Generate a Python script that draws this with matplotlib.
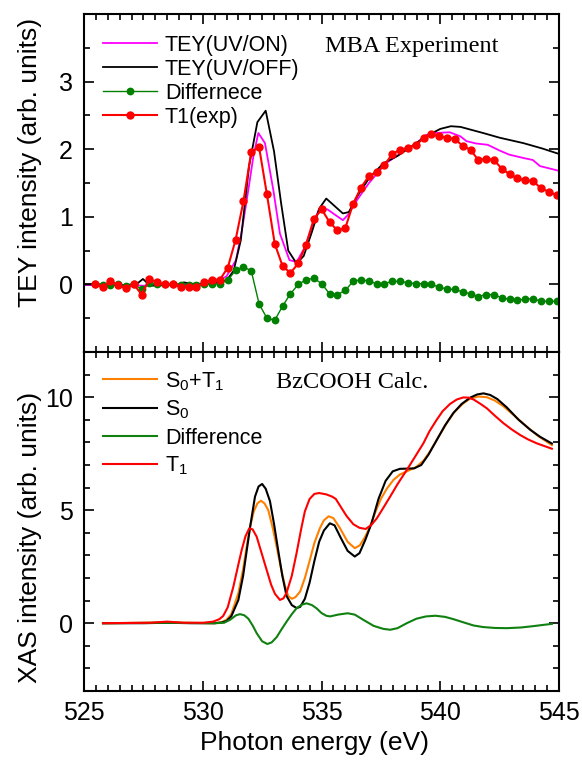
import numpy as np
import matplotlib
matplotlib.use("Agg")
import matplotlib.pyplot as plt
from matplotlib.ticker import MultipleLocator, FixedLocator

plt.rcParams['font.family'] = ['Liberation Sans', 'DejaVu Sans']
plt.rcParams['mathtext.fontset'] = 'custom'
plt.rcParams['mathtext.rm'] = 'Liberation Sans'
plt.rcParams['mathtext.it'] = 'Liberation Sans:italic'
plt.rcParams['mathtext.default'] = 'regular'

# ---------------- Top panel: MBA experiment ----------------
exp_x = np.linspace(525.45, 544.9, 60)
t1_exp = [0.0, -0.04, 0.05, -0.01, -0.06, 0.0, -0.15, 0.08, 0.03, 0.0,
          0.01, -0.04, -0.04, -0.04, 0.03, 0.07, 0.07, 0.25, 0.66, 1.23,
          1.96, 2.03, 1.33, 0.60, 0.27, 0.17, 0.31, 0.59, 0.97, 1.11,
          0.92, 0.80, 0.83, 1.19, 1.43, 1.60, 1.66, 1.76, 1.93, 1.99,
          2.02, 2.06, 2.16, 2.22, 2.19, 2.17, 2.15, 2.05, 1.99, 1.84,
          1.86, 1.84, 1.71, 1.63, 1.57, 1.54, 1.53, 1.42, 1.37, 1.32]
diff_exp = [0.0, -0.01, -0.01, 0.0, -0.03, 0.0, -0.07, 0.02, 0.0, 0.0,
            0.0, -0.01, -0.01, -0.01, 0.0, 0.0, 0.01, 0.06, 0.21, 0.26,
            0.20, -0.29, -0.50, -0.53, -0.32, -0.14, 0.0, 0.07, 0.09, 0.01,
            -0.14, -0.15, -0.09, 0.045, 0.07, 0.05, 0.01, 0.01, 0.045, 0.045,
            0.025, 0.01, 0.01, 0.0, -0.04, -0.07, -0.075, -0.11, -0.14, -0.18,
            -0.15, -0.15, -0.20, -0.22, -0.23, -0.22, -0.21, -0.25, -0.25, -0.25]

off_x = [525.0, 526.0, 526.5, 527.2, 527.48, 527.8, 528.5, 529.0, 529.2, 529.5,
         530.0, 530.5, 531.0, 531.3, 531.6, 531.95, 532.3, 532.65, 533.0, 533.3,
         533.6, 533.95, 534.25, 534.6, 534.9, 535.2, 535.55, 535.9, 536.15, 536.5,
         537.0, 537.6, 538.2, 538.7, 539.4, 540.0, 540.45, 540.85, 541.8, 542.5,
         543.5, 544.3, 545.0]
off_y = [0.0, 0.0, -0.01, 0.0, 0.08, -0.02, -0.01, 0.0, 0.03, 0.01,
         0.01, 0.02, 0.06, 0.20, 0.65, 1.75, 2.40, 2.57, 1.97, 1.20,
         0.50, 0.31, 0.42, 0.78, 1.12, 1.27, 1.16, 1.05, 1.07, 1.30,
         1.57, 1.79, 1.90, 2.02, 2.19, 2.30, 2.34, 2.33, 2.24, 2.17,
         2.09, 2.01, 1.93]

on_x = [525.0, 527.0, 527.5, 528.0, 530.0, 530.5, 531.0, 531.4, 531.65, 531.92,
        532.13, 532.34, 532.62, 532.97, 533.25, 533.65, 533.95, 534.3, 534.65, 534.9,
        535.25, 535.57, 535.9, 536.12, 536.5, 537.0, 537.7, 538.3, 539.0, 539.4,
        539.8, 540.4, 540.85, 541.1, 541.5, 542.0, 542.5, 542.9, 543.5, 543.9,
        544.2, 545.0]
on_y = [-0.01, -0.01, -0.02, 0.0, 0.0, 0.02, 0.12, 0.36, 0.80, 1.40,
        1.89, 2.24, 2.09, 1.40, 0.75, 0.36, 0.33, 0.55, 0.90, 1.11,
        1.11, 1.03, 0.95, 1.03, 1.25, 1.50, 1.79, 1.93, 2.09, 2.21,
        2.24, 2.25, 2.19, 2.12, 2.085, 2.065, 1.98, 1.92, 1.87, 1.84,
        1.75, 1.68]

# ---------------- Bottom panel: BzCOOH calculation ----------------
s0_x = [525.8, 527.5, 528.5, 529.5, 530.5, 530.8, 531.0, 531.2, 531.5, 531.7,
        531.85, 532.0, 532.2, 532.35, 532.5, 532.65, 532.83, 533.0, 533.18, 533.35,
        533.53, 533.75, 533.95, 534.1, 534.3, 534.5, 534.7, 534.9, 535.1, 535.35,
        535.55, 535.8, 536.1, 536.4, 536.6, 536.85, 537.1, 537.4, 537.7, 538.0,
        538.3, 538.6, 538.9, 539.2, 539.5, 539.85, 540.2, 540.55, 540.9, 541.26,
        541.55, 541.82, 542.1, 542.4, 542.8, 543.3, 543.8, 544.2, 544.7]
s0_y = [0.0, 0.0, 0.02, 0.0, 0.0, 0.03, 0.10, 0.30, 1.03, 2.1,
        3.2, 4.3, 5.6, 6.05, 6.16, 5.95, 5.4, 4.4, 3.2, 2.1,
        1.2, 0.8, 0.67, 0.72, 1.08, 1.8, 2.75, 3.6, 4.1, 4.42,
        4.33, 3.8, 3.2, 2.95, 3.1, 3.7, 4.4, 5.5, 6.3, 6.72,
        6.83, 6.84, 6.85, 7.0, 7.45, 8.1, 8.75, 9.3, 9.7, 9.98,
        10.12, 10.17, 10.1, 9.92, 9.55, 9.0, 8.55, 8.25, 7.95]

sum_x = [525.8, 528.5, 530.5, 530.8, 531.0, 531.2, 531.5, 531.7, 531.85, 532.0,
         532.15, 532.3, 532.45, 532.6, 532.76, 532.95, 533.11, 533.3, 533.46, 533.6,
         533.75, 533.9, 534.1, 534.3, 534.51, 534.7, 534.93, 535.1, 535.3, 535.5,
         535.78, 536.1, 536.4, 536.62, 536.85, 537.05, 537.3, 537.5, 537.75, 538.03,
         538.3, 538.6, 539.0, 539.3, 539.57, 539.9, 540.27, 540.6, 540.97, 541.25,
         541.6, 541.96, 542.3, 542.66, 543.1, 543.64, 544.1, 544.7]
sum_y = [0.0, 0.03, 0.0, 0.05, 0.15, 0.4, 1.33, 2.4, 3.39, 4.3,
         4.95, 5.3, 5.42, 5.3, 5.0, 4.2, 3.39, 2.4, 1.65, 1.2,
         1.08, 1.15, 1.4, 2.0, 2.8, 3.55, 4.2, 4.55, 4.73, 4.65,
         4.2, 3.6, 3.32, 3.45, 3.85, 4.3, 5.0, 5.5, 5.95, 6.34,
         6.58, 6.72, 6.92, 7.2, 7.6, 8.2, 8.85, 9.35, 9.73, 9.93,
         10.03, 10.0, 9.85, 9.6, 9.2, 8.7, 8.3, 7.88]

t1_x = [525.8, 527.8, 528.5, 529.2, 530.0, 530.44, 530.7, 530.86, 531.05, 531.29,
        531.5, 531.64, 531.8, 531.96, 532.1, 532.27, 532.45, 532.69, 532.88, 533.04,
        533.25, 533.4, 533.53, 533.75, 533.95, 534.15, 534.3, 534.5, 534.7, 534.9,
        535.2, 535.45, 535.6, 535.78, 536.05, 536.34, 536.6, 536.86, 537.1, 537.33,
        537.6, 537.89, 538.2, 538.59, 538.9, 539.29, 539.55, 539.85, 540.1, 540.41,
        540.7, 540.97, 541.2, 541.4, 541.7, 541.96, 542.3, 542.66, 543.0, 543.36,
        543.7, 544.06, 544.7]
t1_y = [0.0, 0.02, 0.07, 0.02, 0.02, 0.07, 0.18, 0.32, 0.7, 1.62,
        2.6, 3.24, 3.85, 4.2, 4.15, 3.83, 3.2, 2.36, 1.7, 1.3,
        1.03, 1.1, 1.35, 2.1, 3.1, 4.2, 4.95, 5.5, 5.72, 5.76,
        5.7, 5.6, 5.5, 5.2, 4.75, 4.38, 4.22, 4.17, 4.35, 4.64,
        5.1, 5.6, 6.15, 6.78, 7.3, 7.96, 8.5, 9.0, 9.38, 9.7,
        9.9, 9.99, 9.98, 9.9, 9.7, 9.51, 9.18, 8.85, 8.58, 8.33,
        8.13, 7.96, 7.72]

dif_x = [525.8, 528.5, 530.5, 530.9, 531.15, 531.4, 531.57, 531.75, 531.92, 532.1,
         532.27, 532.5, 532.72, 532.9, 533.11, 533.3, 533.53, 533.75, 533.95, 534.17,
         534.37, 534.6, 534.79, 535.0, 535.2, 535.36, 535.7, 536.1, 536.4, 536.76,
         537.2, 537.6, 537.89, 538.2, 538.59, 539.0, 539.4, 539.8, 540.2, 540.55,
         541.0, 541.4, 541.8, 542.3, 542.8, 543.4, 543.92, 544.3, 544.7]
dif_y = [0.0, 0.02, 0.0, 0.02, 0.15, 0.35, 0.4, 0.35, 0.2, -0.1,
         -0.44, -0.8, -0.92, -0.85, -0.62, -0.3, 0.07, 0.4, 0.66, 0.82,
         0.88, 0.8, 0.66, 0.45, 0.33, 0.3, 0.38, 0.44, 0.38, 0.15,
         -0.12, -0.25, -0.29, -0.22, 0.0, 0.2, 0.3, 0.33, 0.28, 0.18,
         0.03, -0.1, -0.17, -0.21, -0.22, -0.19, -0.13, -0.08, -0.03]

top_labels = ['TEY(UV/ON)', 'TEY(UV/OFF)', 'Differnece', 'T1(exp)']
bot_labels = ['S$_0$+T$_1$', 'S$_0$', 'Difference', 'T$_1$']

W, H = 582, 760
fig = plt.figure(figsize=(W / 100, H / 100), dpi=100)
L, R = 84 / W, 559 / W
ax1 = fig.add_axes([L, 1 - 352 / H, R - L, 338 / H])
ax2 = fig.add_axes([L, 1 - 691 / H, R - L, 339 / H])

ax1.plot(on_x, on_y, color='#FF00FF', lw=1.3, label=top_labels[0])
ax1.plot(off_x, off_y, color='black', lw=1.3, label=top_labels[1])
ax1.plot(exp_x, diff_exp, color='#008000', lw=1.0, marker='o', ms=4.6,
         label=top_labels[2])
ax1.plot(exp_x, t1_exp, color='#FF0000', lw=1.5, marker='o', ms=5.0,
         label=top_labels[3])

ax2.plot(sum_x, sum_y, color='#FF8000', lw=1.5, label=bot_labels[0])
ax2.plot(s0_x, s0_y, color='black', lw=1.5, label=bot_labels[1])
ax2.plot(dif_x, dif_y, color='#108010', lw=1.5, label=bot_labels[2])
ax2.plot(t1_x, t1_y, color='#FF0000', lw=1.5, label=bot_labels[3])

for ax in (ax1, ax2):
    ax.set_xlim(525, 545)
    ax.xaxis.set_major_locator(MultipleLocator(5))
    ax.xaxis.set_minor_locator(MultipleLocator(0.5))
    ax.tick_params(which='both', direction='in', top=True, right=True,
                   width=1.2, labelsize=18)
    ax.tick_params(which='major', length=7)
    ax.tick_params(which='minor', length=4.2)
    ax.tick_params(axis='y', pad=8)
    ax.tick_params(axis='x', pad=7)
    for s in ax.spines.values():
        s.set_linewidth(1.5)

ax1.set_ylim(-1, 4)
ax1.yaxis.set_major_locator(FixedLocator([0, 1, 2, 3]))
ax1.yaxis.set_minor_locator(MultipleLocator(0.5))
ax1.tick_params(axis='x', labelbottom=False)

ax2.set_ylim(-3, 12)
ax2.yaxis.set_major_locator(FixedLocator([0, 5, 10]))
ax2.yaxis.set_minor_locator(MultipleLocator(1))

ax1.set_ylabel('TEY intensity (arb. units)', fontsize=19)
ax1.yaxis.set_label_coords(-0.088, 0.562)
ax2.set_ylabel('XAS intensity (arb. units)', fontsize=19)
ax2.yaxis.set_label_coords(-0.088, 0.453)
ax2.set_xlabel('Photon energy (eV)', fontsize=19)
ax2.xaxis.set_label_coords(0.486, -0.118)

leg1 = ax1.legend(loc='upper left', bbox_to_anchor=(0.04, 0.938), frameon=False,
                  fontsize=15.5, handlelength=2.5, handletextpad=0.37,
                  labelspacing=0.14, borderpad=0, borderaxespad=0, numpoints=1)
leg2 = ax2.legend(loc='upper left', bbox_to_anchor=(0.04, 0.947), frameon=False,
                  fontsize=15.5, handlelength=2.5, handletextpad=0.37,
                  labelspacing=0.29, borderpad=0, borderaxespad=0)

ax1.text(0.507, 0.905, 'MBA Experiment', transform=ax1.transAxes,
         family='Liberation Serif', fontsize=17.5, ha='left', va='center')
ax2.text(0.404, 0.909, 'BzCOOH Calc.', transform=ax2.transAxes,
         family='Liberation Serif', fontsize=17.5, ha='left', va='center')

fig.savefig('out.png', dpi=100)
